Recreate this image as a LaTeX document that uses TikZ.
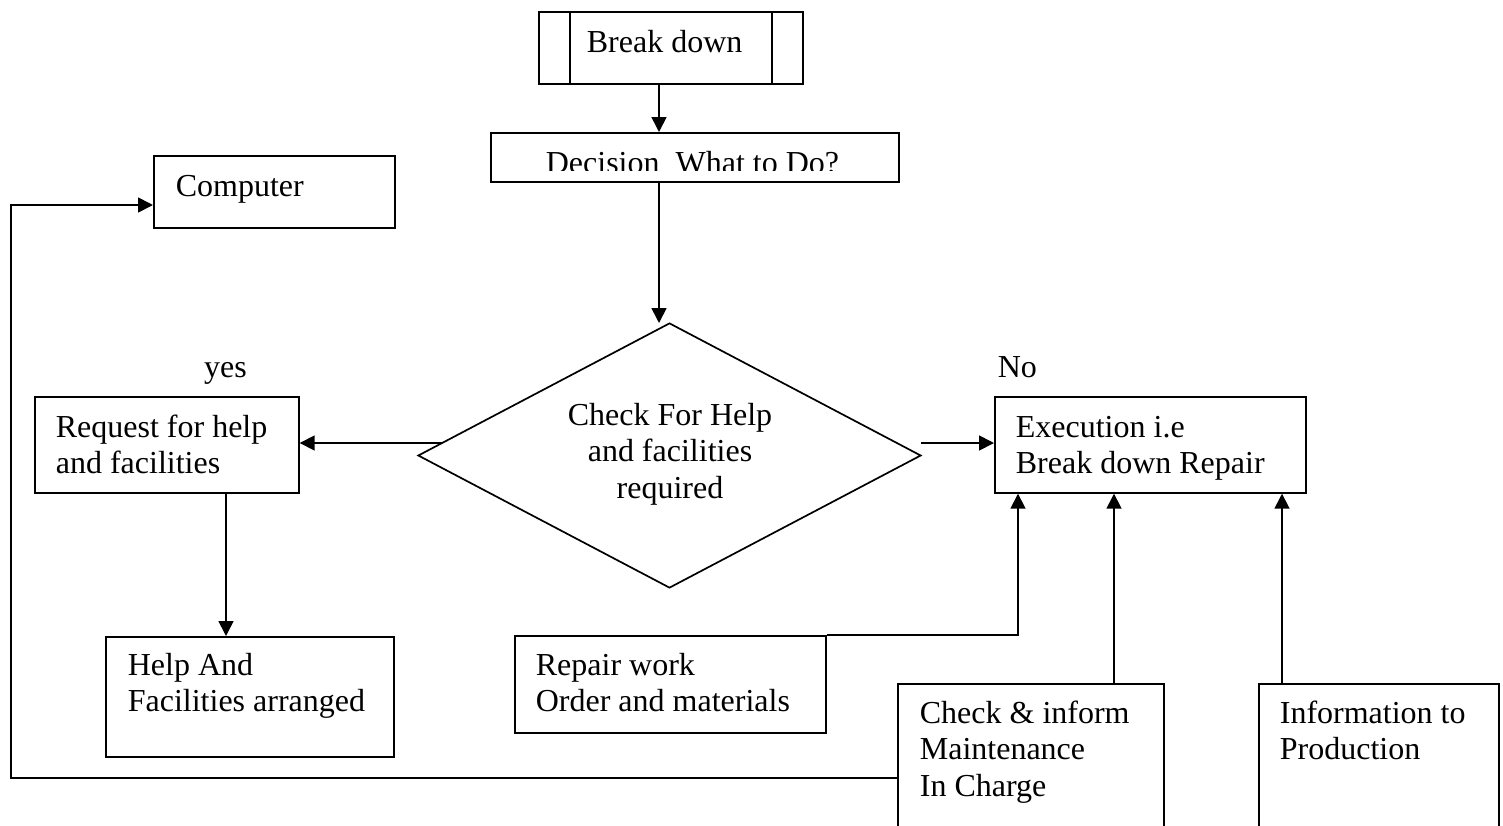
\documentclass[tikz,border=0pt]{standalone}
\usepackage{fontspec}
\setmainfont{Liberation Serif}
\usetikzlibrary{arrows.meta,shapes.geometric}
\begin{document}
\begin{tikzpicture}[x=1pt,y=-1pt,
  line width=1.7pt,
  box/.style={draw, rectangle, inner sep=0pt, anchor=north west},
  txt/.style={inner sep=0pt, anchor=base west, font=\fontsize{32}{36.5}\selectfont},
  arr/.style={-{Triangle[length=15pt,width=15pt]}},
  ]
\useasboundingbox (0,0) rectangle (1503,825);
\clip (0,0) rectangle (1503,825);

% boxes
\node[box, minimum width=264pt, minimum height=72pt] (brk) at (538,11) {};
\draw ([xshift=32pt]brk.north west) -- ([xshift=32pt]brk.south west);
\draw ([xshift=-32pt]brk.north east) -- ([xshift=-32pt]brk.south east);
\node[box, minimum width=408pt, minimum height=49pt] (dec) at (490,132) {};
\node[box, minimum width=241pt, minimum height=72pt] (comp) at (153,155) {};
\node[draw, diamond, inner sep=0pt, minimum width=503pt, minimum height=265pt] (dia) at (669.5,455.5) {};
\node[box, minimum width=264pt, minimum height=96pt] (req) at (34,396) {};
\node[box, minimum width=311pt, minimum height=96pt] (exe) at (994,396) {};
\node[box, minimum width=288pt, minimum height=120pt] (help) at (105,636) {};
\node[box, minimum width=311pt, minimum height=97pt] (rep) at (514,635) {};
\node[box, minimum width=266pt, minimum height=170pt] (chk) at (897,683) {};
\node[box, minimum width=240pt, minimum height=170pt] (info) at (1258,683) {};

% texts
\node[txt] (brk-t) at (586,52) {Break down};
\begin{scope}
  \clip (490,132) rectangle (898,170);
  \node[txt] (dec-t) at (545,173) {Decision\ \ What to Do?};
\end{scope}
\node[txt] (comp-t) at (175,196) {Computer};
\node[txt, anchor=base] (dia-t) at (670,425)
  {\begin{tabular}[t]{@{}c@{}}Check For Help\\and facilities\\required\end{tabular}};
\node[txt, anchor=base] (yes) at (225.5,377) {yes};
\node[txt] (no) at (997,377) {No};
\node[txt] (req-t) at (55,437)
  {\begin{tabular}[t]{@{}l@{}}Request for help\\and facilities\end{tabular}};
\node[txt] (exe-t) at (1015,437)
  {\begin{tabular}[t]{@{}l@{}}Execution i.e\\Break down Repair\end{tabular}};
\node[txt] (help-t) at (127,675)
  {\begin{tabular}[t]{@{}l@{}}Help And\\Facilities arranged\end{tabular}};
\node[txt] (rep-t) at (535,675)
  {\begin{tabular}[t]{@{}l@{}}Repair work\\Order and materials\end{tabular}};
\node[txt] (chk-t) at (919,723)
  {\begin{tabular}[t]{@{}l@{}}Check \& inform\\Maintenance\\In Charge\end{tabular}};
\node[txt] (info-t) at (1279,723)
  {\begin{tabular}[t]{@{}l@{}}Information to\\Production\end{tabular}};

% connectors
\draw[arr] (brk.south -| 659,0) -- (dec.north -| 659,0);
\coordinate (dtip) at (659,323);
\draw[arr] (dec.south -| dtip) -- (dtip);
\coordinate (lst) at (442,443);
\draw[arr] (lst) -- (lst -| req.east);
\coordinate (rst) at (921,443);
\draw[arr] (rst) -- (rst -| exe.west);
\coordinate (x0) at ([xshift=192pt]req.south west);
\draw[arr] (x0) -- (x0 |- help.north);
\coordinate (x1) at ([xshift=24pt]exe.south west);
\draw[arr] (rep.north east) -| (x1);
\coordinate (x2) at ([xshift=120pt]exe.south west);
\draw[arr] (x2 |- chk.north) -- (x2);
\coordinate (x3) at ([xshift=288pt]exe.south west);
\draw[arr] (x3 |- info.north) -- (x3);
\coordinate (lp1) at (11,778);
\coordinate (lp2) at (11,205);
\draw[arr] (lp1 -| chk.west) -- (lp1) -- (lp2) -- (lp2 -| comp.west);
\end{tikzpicture}
\end{document}
